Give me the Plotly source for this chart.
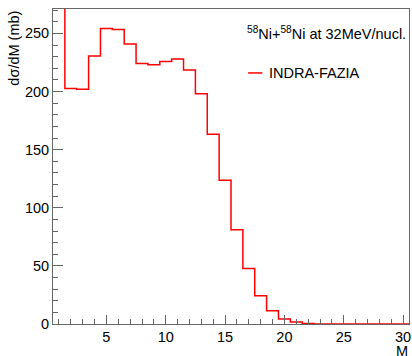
import plotly.graph_objects as go
import numpy as np

# Data: multiplicity bins (centers) and dσ/dM values (mb)
bin_centers = list(range(1, 31))
dsigma_dM = [300.0, 202.7, 201.9, 230.5, 254.3, 253.4, 240.8, 224.2, 223.0, 225.9,
             227.9, 218.5, 198.1, 163.3, 123.7, 81.0, 47.8, 24.3, 11.5, 4.3,
             1.8, 0.5, 0.1, 0.0, 0.0, 0.0, 0.0, 0.0, 0.0, 0.0]
x_ticks = [5, 10, 15, 20, 25, 30]
y_ticks = [0, 50, 100, 150, 200, 250]
series_name = "INDRA-FAZIA"
title_text = "<sup>58</sup>Ni+<sup>58</sup>Ni at 32MeV/nucl."

# Step outline built from bin edges
centers = np.array(bin_centers, dtype=float)
edges = np.concatenate([centers - 0.5, [centers[-1] + 0.5]])
step_y = list(dsigma_dM) + [dsigma_dM[-1]]

FONT = "Liberation Sans, Arial, Helvetica, sans-serif"
AX = "#666666"

fig = go.Figure()
fig.add_trace(go.Scatter(
    x=edges, y=step_y, mode="lines", line=dict(color="#ff0000", width=1.5, shape="hv"),
    name=series_name, showlegend=False, hoverinfo="skip"))

fig.update_layout(
    width=412, height=356,
    margin=dict(l=53, r=1, t=9, b=32),
    paper_bgcolor="white", plot_bgcolor="white",
    font=dict(family=FONT, size=14, color="black"),
    showlegend=False,
)
fig.update_xaxes(
    range=[0.5, 30.5], tickvals=x_ticks, ticktext=[str(v) for v in x_ticks],
    ticks="inside", ticklen=9, tickwidth=1, tickcolor=AX,
    minor=dict(ticks="inside", dtick=1, ticklen=5, tickcolor=AX, showgrid=False),
    showline=True, linecolor=AX, linewidth=1, mirror=True,
    showgrid=False, zeroline=False, tickfont=dict(size=14.5),
    ticklabeloverflow="allow",
)
fig.update_yaxes(
    range=[0, 271], tickvals=y_ticks, ticktext=[str(v) for v in y_ticks],
    ticks="inside", ticklen=10, tickwidth=1, tickcolor=AX,
    minor=dict(ticks="inside", dtick=10, ticklen=5, tickcolor=AX, showgrid=False),
    showline=True, linecolor=AX, linewidth=1, mirror=True,
    showgrid=False, zeroline=False, tickfont=dict(size=14.5),
)

# Axis titles (ROOT style: at the end of the axes)
fig.add_annotation(text="dσ/dM (mb)", xref="paper", yref="paper", x=-0.112, y=1.0,
                   xanchor="center", yanchor="top", textangle=-90, showarrow=False,
                   font=dict(size=14.5))
fig.add_annotation(text="M", xref="paper", yref="paper", x=1.0, y=0, yshift=-18,
                   xanchor="right", yanchor="top", showarrow=False, borderpad=0,
                   font=dict(size=14.5))

# Text and legend
fig.add_annotation(text=title_text, xref="paper", yref="paper", x=0.54, y=0.925,
                   xanchor="left", yanchor="middle", showarrow=False, font=dict(size=14.5))
fig.add_shape(type="line", xref="paper", yref="paper", x0=0.548, x1=0.588, y0=0.797, y1=0.797,
              line=dict(color="#ff0000", width=1.5))
fig.add_annotation(text=series_name, xref="paper", yref="paper", x=0.6, y=0.797,
                   xanchor="left", yanchor="middle", showarrow=False, font=dict(size=14.5))

fig.write_html("out.html", config={"displayModeBar": False},
               post_script="document.body.style.margin='0';document.body.style.padding='0';")
